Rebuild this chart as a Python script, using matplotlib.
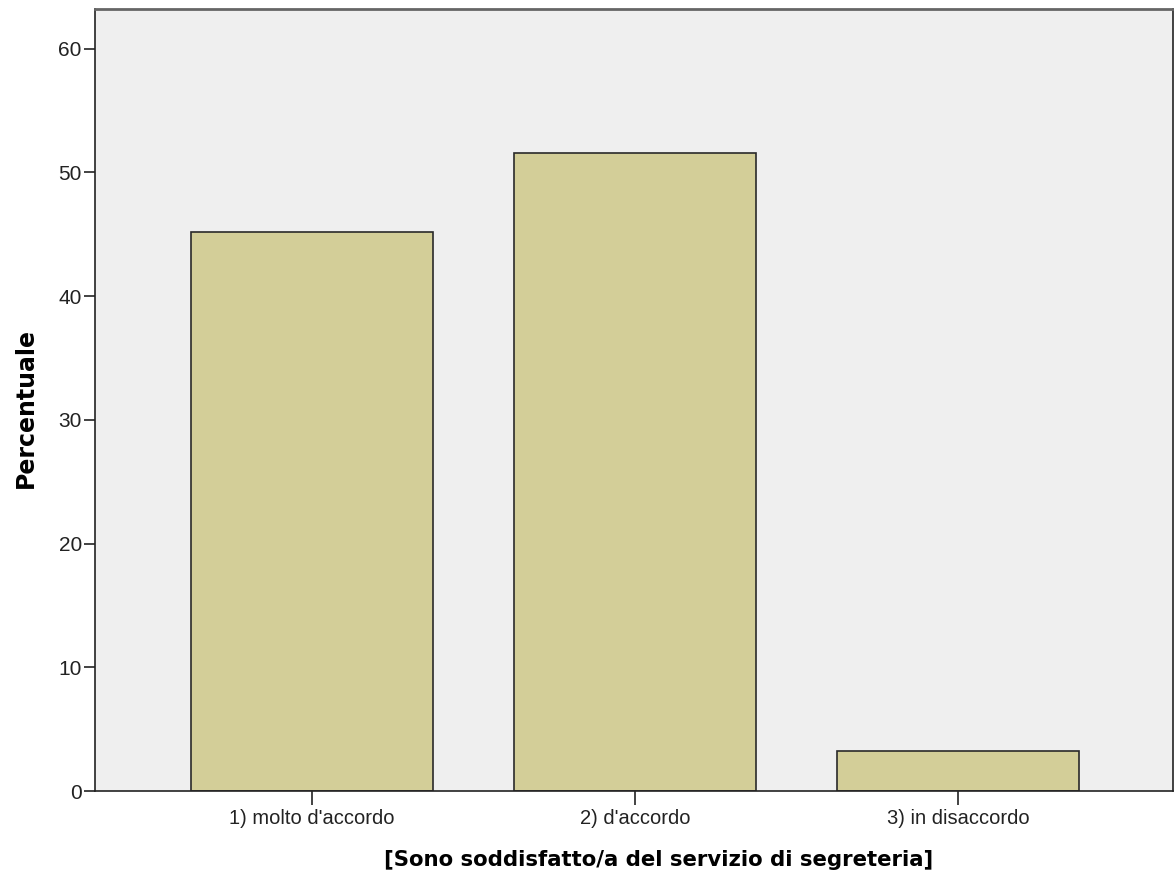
import matplotlib
matplotlib.use("Agg")
import matplotlib.pyplot as plt

categories = ["1) molto d'accordo", "2) d'accordo", "3) in disaccordo"]
percentuale = [45.2, 51.6, 3.2]
yticks = [0, 10, 20, 30, 40, 50, 60]

plt.rcParams['font.family'] = ['Liberation Sans', 'DejaVu Sans']

fig = plt.figure(figsize=(11.74, 8.85), dpi=100)
ax = fig.add_axes([0.0809, 0.1062, 0.9182, 0.8836])
ax.set_facecolor('#EFEFEF')
x = list(range(len(categories)))
ax.bar(x, percentuale, width=0.75, color='#D3CE98', edgecolor='#2a2a2a', linewidth=1.2, zorder=2)
ax.set_xlim(-0.672, 2.665)
ax.set_ylim(0, 63.2)
ax.set_yticks(yticks)
ax.set_yticklabels([str(v) for v in yticks])
ax.set_xticks(x)
ax.set_xticklabels(categories)
ax.tick_params(axis='y', length=8, width=1.2, pad=1.5, labelsize=15, colors='#222222')
ax.tick_params(axis='x', length=10, width=1.2, pad=3, labelsize=14.5, colors='#222222')
for s in ax.spines.values():
    s.set_linewidth(1.2)
    s.set_color('#222222')
ax.spines['top'].set_color('#666666')
ax.spines['top'].set_linewidth(2)
ax.set_ylabel('Percentuale', fontsize=17, fontweight='bold', family='DejaVu Sans')
ax.yaxis.set_label_coords(-0.053, 0.49)
ax.set_xlabel('[Sono soddisfatto/a del servizio di segreteria]', fontsize=15.3, fontweight='bold',
              family='DejaVu Sans')
ax.xaxis.set_label_coords(0.523, -0.075)
fig.savefig('out.png', dpi=100)
